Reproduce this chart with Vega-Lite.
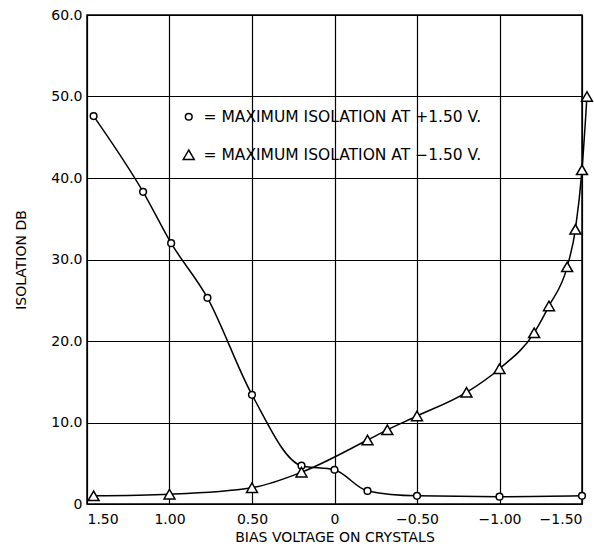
{
  "$schema": "https://vega.github.io/schema/vega-lite/v6.json",
  "autosize": {"type": "none"},
  "width": 495,
  "height": 489,
  "padding": {"left": 87, "top": 15, "right": 12, "bottom": 42},
  "background": "white",
  "config": {
    "font": "DejaVu Sans",
    "view": {"stroke": "black", "strokeWidth": 1.5},
    "axis": {
      "grid": true,
      "gridColor": "black",
      "gridOpacity": 1,
      "gridWidth": 1.2,
      "domain": false,
      "ticks": false,
      "labelFont": "DejaVu Sans",
      "labelFontSize": 14,
      "labelColor": "black",
      "titleFont": "DejaVu Sans",
      "titleFontSize": 14,
      "titleFontWeight": "normal",
      "titleColor": "black"
    },
    "legend": {
      "orient": "none",
      "legendX": 94,
      "legendY": 94,
      "labelFont": "DejaVu Sans",
      "labelFontSize": 15.5,
      "labelColor": "black",
      "labelLimit": 0,
      "labelOffset": 7,
      "rowPadding": 21,
      "title": null
    }
  },
  "data": {
    "values": [
      {"series": "plus", "v": 1.46, "db": 47.6},
      {"series": "plus", "v": 1.16, "db": 38.3},
      {"series": "plus", "v": 0.99, "db": 32.0},
      {"series": "plus", "v": 0.77, "db": 25.3},
      {"series": "plus", "v": 0.5, "db": 13.4},
      {"series": "plus", "v": 0.2, "db": 4.7},
      {"series": "plus", "v": 0.0, "db": 4.2},
      {"series": "plus", "v": -0.2, "db": 1.6},
      {"series": "plus", "v": -0.5, "db": 1.0},
      {"series": "plus", "v": -1.0, "db": 0.9},
      {"series": "plus", "v": -1.5, "db": 1.0},
      {"series": "minus", "v": 1.46, "db": 1.0},
      {"series": "minus", "v": 1.0, "db": 1.2},
      {"series": "minus", "v": 0.5, "db": 2.0},
      {"series": "minus", "v": 0.2, "db": 3.9},
      {"series": "minus", "v": -0.2, "db": 7.85},
      {"series": "minus", "v": -0.32, "db": 9.1},
      {"series": "minus", "v": -0.5, "db": 10.8},
      {"series": "minus", "v": -0.8, "db": 13.7},
      {"series": "minus", "v": -1.0, "db": 16.6},
      {"series": "minus", "v": -1.21, "db": 21.0},
      {"series": "minus", "v": -1.3, "db": 24.3},
      {"series": "minus", "v": -1.41, "db": 29.1},
      {"series": "minus", "v": -1.46, "db": 33.7},
      {"series": "minus", "v": -1.5, "db": 41.0},
      {"series": "minus", "v": -1.53, "db": 50.0}
    ]
  },
  "encoding": {
    "x": {
      "field": "v",
      "type": "quantitative",
      "scale": {"domain": [1.5, -1.5], "nice": false, "zero": false},
      "axis": {
        "values": [1.5, 1.0, 0.5, 0, -0.5, -1.0, -1.5],
        "labelExpr": "datum.value == 0 ? '0' : format(datum.value, '.2f')",
        "labelPadding": 8,
        "title": "BIAS VOLTAGE ON CRYSTALS",
        "titlePadding": 4
      }
    },
    "y": {
      "field": "db",
      "type": "quantitative",
      "scale": {"domain": [0, 60], "nice": false},
      "axis": {
        "values": [0, 10, 20, 30, 40, 50, 60],
        "labelExpr": "datum.value == 0 ? '0' : format(datum.value, '.1f')",
        "labelPadding": 5,
        "title": "ISOLATION DB",
        "titlePadding": 22
      }
    }
  },
  "layer": [
    {
      "mark": {"type": "line", "interpolate": "monotone", "color": "black", "strokeWidth": 1.5, "clip": false},
      "encoding": {"detail": {"field": "series"}}
    },
    {
      "mark": {"type": "point", "filled": false, "fill": "white", "fillOpacity": 1, "stroke": "black", "strokeWidth": 1.5, "opacity": 1, "clip": false},
      "encoding": {
        "shape": {
          "field": "series",
          "type": "nominal",
          "scale": {"domain": ["plus", "minus"], "range": ["circle", "triangle-up"]},
          "legend": {
            "labelExpr": "datum.label == 'plus' ? '= MAXIMUM ISOLATION AT +1.50 V.' : '= MAXIMUM ISOLATION AT \u22121.50 V.'",
            "symbolStrokeColor": "black",
            "symbolFillColor": "white",
            "symbolStrokeWidth": 1.5,
            "symbolOpacity": 1
          }
        },
        "size": {
          "field": "series",
          "type": "nominal",
          "scale": {"domain": ["plus", "minus"], "range": [45, 120]}
        }
      }
    }
  ]
}
